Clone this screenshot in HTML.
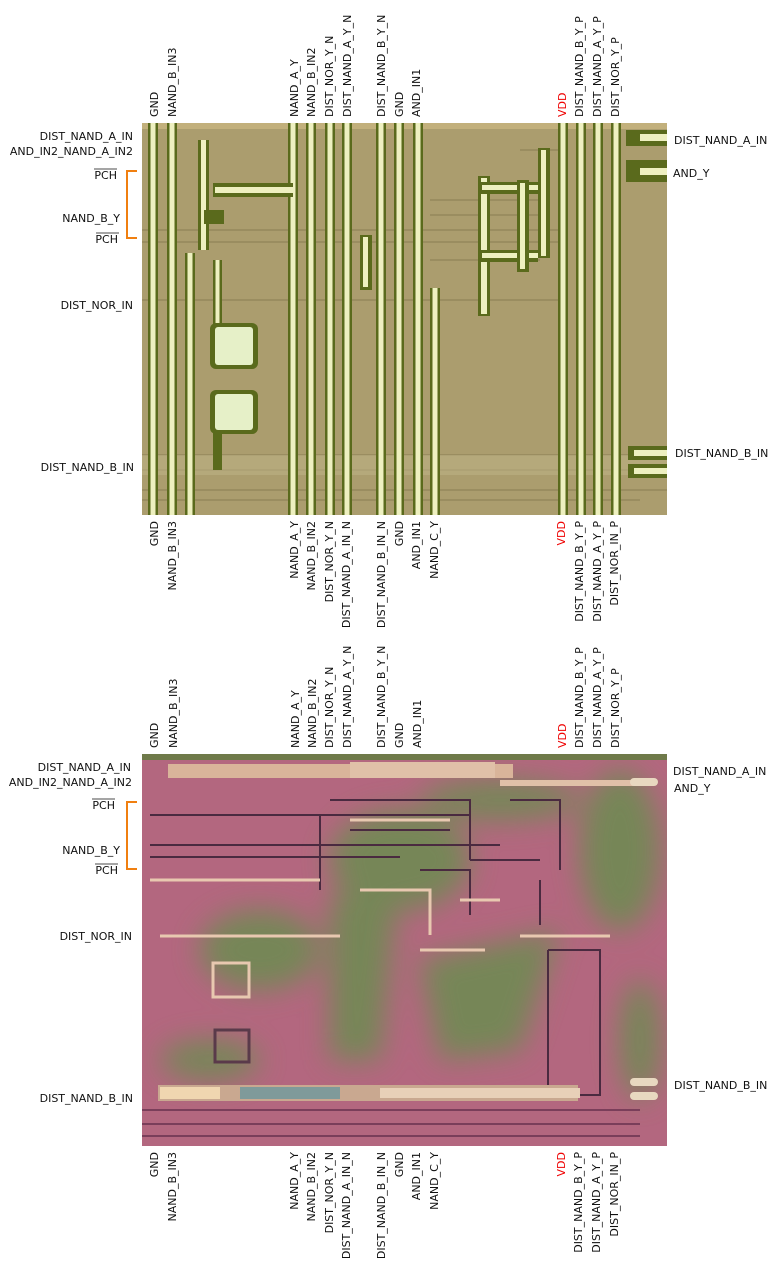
<!DOCTYPE html>
<html><head><meta charset="utf-8"><style>
html,body{margin:0;padding:0;background:#fff;}
svg{display:block;}
text{font-family:"DejaVu Sans","Liberation Sans",sans-serif;font-size:11px;fill:#111;}
</style></head><body>
<svg width="780" height="1270" viewBox="0 0 780 1270" xmlns="http://www.w3.org/2000/svg">
<defs>
<filter id="bl" x="-20%" y="-20%" width="140%" height="140%"><feGaussianBlur stdDeviation="14"/></filter>
<clipPath id="c1"><rect x="142" y="123" width="525" height="392"/></clipPath>
<clipPath id="c2"><rect x="142" y="754" width="525" height="392"/></clipPath>
<g id="stripe"><rect x="-5" y="0" width="10" height="392" fill="#5a6a1c"/><rect x="-2.5" y="0" width="5" height="392" fill="#eef0c0"/></g>
</defs>

<g clip-path="url(#c1)">
<rect x="142" y="123" width="525" height="392" fill="#ab9d6e"/>
<rect x="142" y="123" width="525" height="6" fill="#c2b07c"/>
<g stroke="#8f8458" stroke-width="1.2" fill="none">
<path d="M142 230H560M142 242H560M142 300H560M142 455H667M142 470H667M142 490H667M142 500H640M430 200H540M430 215H540M430 260H540M520 150H560"/>
</g>
<rect x="142" y="455" width="525" height="20" fill="#bcb184" opacity="0.6"/>
<g transform="translate(0,123)">
<use href="#stripe" x="153"/><use href="#stripe" x="172"/><use href="#stripe" x="190" y="130"/>
<use href="#stripe" x="293"/><use href="#stripe" x="311"/><use href="#stripe" x="330"/><use href="#stripe" x="347"/>
<use href="#stripe" x="381"/><use href="#stripe" x="399"/><use href="#stripe" x="418"/><use href="#stripe" x="435" y="165"/>
<use href="#stripe" x="563"/><use href="#stripe" x="581"/><use href="#stripe" x="598"/><use href="#stripe" x="616"/>
</g>
<rect x="198" y="140" width="11" height="110" fill="#5a6a1c"/><rect x="201" y="140" width="5" height="110" fill="#eef0c0"/>
<rect x="204" y="210" width="20" height="14" fill="#5a6a1c"/>
<rect x="213" y="183" width="80" height="14" fill="#5a6a1c"/><rect x="215" y="187" width="78" height="6" fill="#eef0c0"/>
<rect x="213" y="260" width="9" height="70" fill="#5a6a1c"/><rect x="215.5" y="260" width="4" height="70" fill="#eef0c0"/>
<rect x="210" y="323" width="48" height="46" rx="6" fill="#5a6a1c"/><rect x="215" y="327" width="38" height="38" rx="3" fill="#e6f0c8"/>
<rect x="210" y="390" width="48" height="44" rx="6" fill="#5a6a1c"/><rect x="215" y="394" width="38" height="36" rx="3" fill="#e6f0c8"/>
<rect x="213" y="430" width="9" height="40" fill="#5a6a1c"/>
<rect x="360" y="235" width="12" height="55" fill="#5a6a1c"/><rect x="363" y="237" width="5" height="50" fill="#eef0c0"/>
<rect x="478" y="176" width="12" height="140" fill="#5a6a1c"/><rect x="481" y="178" width="6" height="136" fill="#eef0c0"/>
<rect x="478" y="182" width="60" height="12" fill="#5a6a1c"/><rect x="482" y="185" width="56" height="5" fill="#eef0c0"/>
<rect x="478" y="250" width="60" height="12" fill="#5a6a1c"/><rect x="482" y="253" width="56" height="5" fill="#eef0c0"/>
<rect x="517" y="180" width="12" height="92" fill="#5a6a1c"/><rect x="520" y="183" width="5" height="86" fill="#eef0c0"/>
<rect x="538" y="148" width="12" height="110" fill="#5a6a1c"/><rect x="541" y="150" width="5" height="106" fill="#eef0c0"/>
<rect x="626" y="130" width="41" height="16" fill="#5a6a1c"/><rect x="640" y="134" width="27" height="7" fill="#eef0c0"/>
<rect x="626" y="160" width="41" height="22" fill="#5a6a1c"/><rect x="640" y="168" width="27" height="7" fill="#eef0c0"/>
<rect x="628" y="446" width="39" height="14" fill="#5a6a1c"/><rect x="634" y="450" width="33" height="6" fill="#eef0c0"/>
<rect x="628" y="464" width="39" height="14" fill="#5a6a1c"/><rect x="634" y="468" width="33" height="6" fill="#eef0c0"/>
</g>

<g clip-path="url(#c2)">
<rect x="142" y="754" width="525" height="392" fill="#b3677f"/>
<g filter="url(#bl)" opacity="0.9">
<ellipse cx="260" cy="950" rx="60" ry="40" fill="#6f8a52"/>
<ellipse cx="400" cy="860" rx="70" ry="50" fill="#6f8a52"/>
<path d="M330 900 L400 870 L380 1060 L330 1060Z" fill="#6f8a52"/>
<path d="M420 960 L560 930 L520 1050 L440 1060Z" fill="#6f8a52"/>
<ellipse cx="620" cy="850" rx="40" ry="80" fill="#6f8a52"/>
<ellipse cx="640" cy="1040" rx="20" ry="60" fill="#6f8a52"/>
<ellipse cx="210" cy="1060" rx="50" ry="20" fill="#6f8a52"/>
<ellipse cx="500" cy="800" rx="80" ry="20" fill="#6f8a52"/>
</g>
<rect x="142" y="754" width="525" height="6" fill="#6f7a4a"/>
<rect x="168" y="764" width="345" height="14" fill="#d9b49a"/><rect x="350" y="762" width="145" height="16" fill="#e0c0a8"/>
<rect x="500" y="780" width="145" height="6" fill="#e0c0a8"/>
<g stroke="#4a2a40" stroke-width="2" fill="none">
<path d="M150 815H470M150 845H500M150 857H400M320 815V890M330 800H470V860M350 830H450M420 870H470V915M470 860H540M510 800H560V870M540 880V925M548 950V1095H600V950H548"/>
</g>
<g stroke="#e8c8b0" stroke-width="3" fill="none">
<path d="M150 880H320M360 890H430V935M460 900H500M160 936H340M520 936H610M420 950H485M350 820H450"/>
</g>
<rect x="158" y="1085" width="420" height="16" fill="#c9a890"/>
<rect x="160" y="1087" width="60" height="12" fill="#f0d6b0"/>
<rect x="240" y="1087" width="100" height="12" fill="#7f9a9a"/>
<rect x="380" y="1088" width="200" height="10" fill="#e8d0b8"/>
<path d="M142 1110H640M142 1124H640M142 1136H640" stroke="#7a3e5a" stroke-width="2"/>
<rect x="213" y="963" width="36" height="34" fill="none" stroke="#e8c8b0" stroke-width="3"/>
<rect x="215" y="1030" width="34" height="32" fill="none" stroke="#5a3a4a" stroke-width="3"/>
<rect x="630" y="778" width="28" height="8" rx="4" fill="#e8d8c0"/><rect x="630" y="1078" width="28" height="8" rx="4" fill="#e8d8c0"/><rect x="630" y="1092" width="28" height="8" rx="4" fill="#e8d8c0"/>
</g>

<g>
<text transform="translate(158,117) rotate(-90)">GND</text>
<text transform="translate(176,117) rotate(-90)">NAND_B_IN3</text>
<text transform="translate(298,117) rotate(-90)">NAND_A_Y</text>
<text transform="translate(315,117) rotate(-90)">NAND_B_IN2</text>
<text transform="translate(333,117) rotate(-90)">DIST_NOR_Y_N</text>
<text transform="translate(351,117) rotate(-90)">DIST_NAND_A_Y_N</text>
<text transform="translate(385,117) rotate(-90)">DIST_NAND_B_Y_N</text>
<text transform="translate(403,117) rotate(-90)">GND</text>
<text transform="translate(420,117) rotate(-90)">AND_IN1</text>
<text transform="translate(566,117) rotate(-90)" style="fill:#e00">VDD</text>
<text transform="translate(583,117) rotate(-90)">DIST_NAND_B_Y_P</text>
<text transform="translate(601,117) rotate(-90)">DIST_NAND_A_Y_P</text>
<text transform="translate(619,117) rotate(-90)">DIST_NOR_Y_P</text>
</g>
<g text-anchor="end">
<text transform="translate(158,521) rotate(-90)">GND</text>
<text transform="translate(176,521) rotate(-90)">NAND_B_IN3</text>
<text transform="translate(298,521) rotate(-90)">NAND_A_Y</text>
<text transform="translate(315,521) rotate(-90)">NAND_B_IN2</text>
<text transform="translate(333,521) rotate(-90)">DIST_NOR_Y_N</text>
<text transform="translate(350,521) rotate(-90)">DIST_NAND_A_IN_N</text>
<text transform="translate(385,521) rotate(-90)">DIST_NAND_B_IN_N</text>
<text transform="translate(403,521) rotate(-90)">GND</text>
<text transform="translate(420,521) rotate(-90)">AND_IN1</text>
<text transform="translate(438,521) rotate(-90)">NAND_C_Y</text>
<text transform="translate(565,521) rotate(-90)" style="fill:#e00">VDD</text>
<text transform="translate(583,521) rotate(-90)">DIST_NAND_B_Y_P</text>
<text transform="translate(601,521) rotate(-90)">DIST_NAND_A_Y_P</text>
<text transform="translate(618,521) rotate(-90)">DIST_NOR_IN_P</text>
</g>
<g text-anchor="end">
<text x="133" y="140">DIST_NAND_A_IN</text>
<text x="133" y="155">AND_IN2_NAND_A_IN2</text>
<text x="117" y="179">PCH</text>
<text x="120" y="222">NAND_B_Y</text>
<text x="118" y="243">PCH</text>
<text x="133" y="309">DIST_NOR_IN</text>
<text x="134" y="471">DIST_NAND_B_IN</text>
</g>
<path d="M94 169H117M96 233H119" stroke="#111" stroke-width="0.8"/>
<path d="M137 171H127V238H137" stroke="#f07f10" stroke-width="2" fill="none"/>
<text x="674" y="144">DIST_NAND_A_IN</text>
<text x="673" y="177">AND_Y</text>
<text x="675" y="457">DIST_NAND_B_IN</text>

<g>
<text transform="translate(158,748) rotate(-90)">GND</text>
<text transform="translate(177,748) rotate(-90)">NAND_B_IN3</text>
<text transform="translate(299,748) rotate(-90)">NAND_A_Y</text>
<text transform="translate(316,748) rotate(-90)">NAND_B_IN2</text>
<text transform="translate(333,748) rotate(-90)">DIST_NOR_Y_N</text>
<text transform="translate(351,748) rotate(-90)">DIST_NAND_A_Y_N</text>
<text transform="translate(385,748) rotate(-90)">DIST_NAND_B_Y_N</text>
<text transform="translate(403,748) rotate(-90)">GND</text>
<text transform="translate(421,748) rotate(-90)">AND_IN1</text>
<text transform="translate(566,748) rotate(-90)" style="fill:#e00">VDD</text>
<text transform="translate(583,748) rotate(-90)">DIST_NAND_B_Y_P</text>
<text transform="translate(601,748) rotate(-90)">DIST_NAND_A_Y_P</text>
<text transform="translate(619,748) rotate(-90)">DIST_NOR_Y_P</text>
</g>
<g text-anchor="end">
<text transform="translate(158,1152) rotate(-90)">GND</text>
<text transform="translate(176,1152) rotate(-90)">NAND_B_IN3</text>
<text transform="translate(298,1152) rotate(-90)">NAND_A_Y</text>
<text transform="translate(315,1152) rotate(-90)">NAND_B_IN2</text>
<text transform="translate(333,1152) rotate(-90)">DIST_NOR_Y_N</text>
<text transform="translate(350,1152) rotate(-90)">DIST_NAND_A_IN_N</text>
<text transform="translate(385,1152) rotate(-90)">DIST_NAND_B_IN_N</text>
<text transform="translate(403,1152) rotate(-90)">GND</text>
<text transform="translate(420,1152) rotate(-90)">AND_IN1</text>
<text transform="translate(438,1152) rotate(-90)">NAND_C_Y</text>
<text transform="translate(565,1152) rotate(-90)" style="fill:#e00">VDD</text>
<text transform="translate(582,1152) rotate(-90)">DIST_NAND_B_Y_P</text>
<text transform="translate(600,1152) rotate(-90)">DIST_NAND_A_Y_P</text>
<text transform="translate(618,1152) rotate(-90)">DIST_NOR_IN_P</text>
</g>
<g text-anchor="end">
<text x="131" y="771">DIST_NAND_A_IN</text>
<text x="132" y="786">AND_IN2_NAND_A_IN2</text>
<text x="115" y="809">PCH</text>
<text x="120" y="854">NAND_B_Y</text>
<text x="118" y="874">PCH</text>
<text x="132" y="940">DIST_NOR_IN</text>
<text x="133" y="1102">DIST_NAND_B_IN</text>
</g>
<path d="M92 799H115M95 864H118" stroke="#111" stroke-width="0.8"/>
<path d="M137 802H127V869H137" stroke="#f07f10" stroke-width="2" fill="none"/>
<text x="673" y="775">DIST_NAND_A_IN</text>
<text x="674" y="792">AND_Y</text>
<text x="674" y="1089">DIST_NAND_B_IN</text>
</svg>
</body></html>
